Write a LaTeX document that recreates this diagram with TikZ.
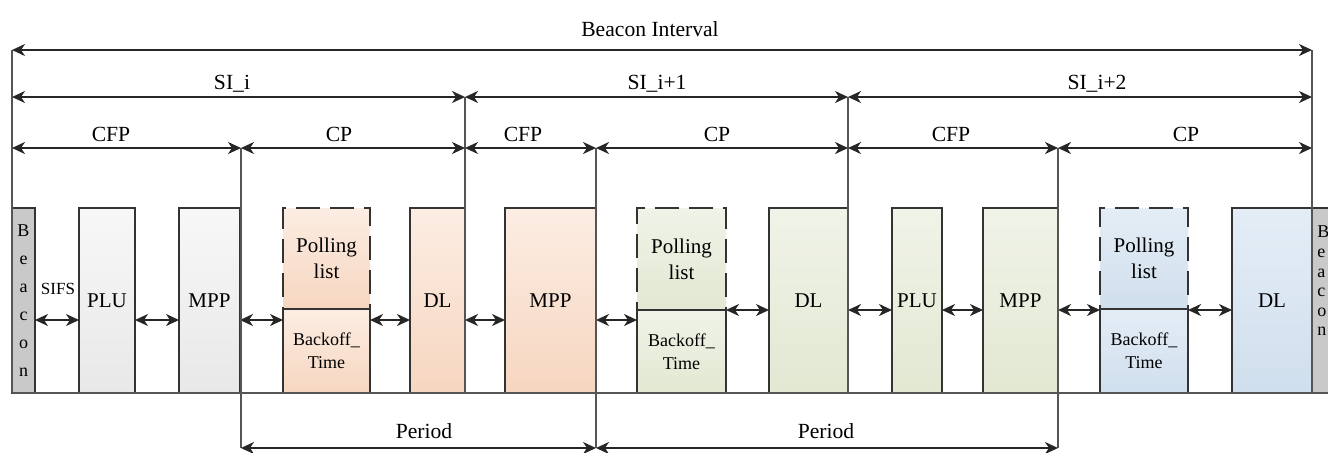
\documentclass[tikz,border=0pt]{standalone}
\usepackage{fontspec}
\setmainfont{Liberation Serif}
\newfontfamily\timesfont{Liberation Serif}
\usetikzlibrary{arrows.meta}
\definecolor{boxline}{HTML}{333333}
\definecolor{sepgray}{HTML}{555555}
\definecolor{bcngray}{HTML}{C9C9C9}
\definecolor{orL}{HTML}{FCEDE3}
\definecolor{orD}{HTML}{F6D6C0}
\definecolor{grL}{HTML}{F0F3E8}
\definecolor{grD}{HTML}{E2E8D2}
\definecolor{blL}{HTML}{E4EDF6}
\definecolor{blD}{HTML}{D0DFED}

\begin{document}
\begin{tikzpicture}[x=0.5pt, y=-0.5pt,
  box/.style={draw=boxline, line width=1pt, anchor=north west, inner sep=0pt, outer sep=0pt,
    minimum height=92.5pt, align=center, font=\timesfont\fontsize{10.5}{13}\selectfont},
  poll/.style={box, dash pattern=on 12pt off 5pt, minimum height=50.5pt},
  back/.style={box, minimum height=42pt, font=\timesfont\fontsize{9}{11.5}\selectfont},
  gbox/.style={top color=white!97!black, bottom color=white!91!black},
  obox/.style={top color=orL, bottom color=orD},
  grbox/.style={top color=grL, bottom color=grD},
  blbox/.style={top color=blL, bottom color=blD},
  dim/.style={line width=1pt, draw=black!85,
    {Stealth[length=6.5pt,width=6pt,inset=2pt]}-{Stealth[length=6.5pt,width=6pt,inset=2pt]}},
  sep/.style={line width=1pt, draw=sepgray},
  lbl/.style={anchor=base, inner sep=0pt, font=\timesfont\fontsize{10.8}{13}\selectfont}]
\useasboundingbox (0,0) rectangle (1328,452);
\clip (0,0) rectangle (1328,452);
% rows and ticks
\coordinate (bi) at (0,50); \coordinate (si) at (0,97); \coordinate (cp) at (0,148);
\coordinate (pd) at (0,448); \coordinate (base) at (0,393);
\coordinate (lo) at (0,320); \coordinate (hi) at (0,310);
\foreach \n/\x in {ta/12,tb/241,tc/465,td/596,te/848,tf/1058,tg/1312,tend/1328} \coordinate (\n) at (\x,0);

% slots
\node[box, fill=bcngray, minimum width=11.5pt, font=\timesfont\fontsize{9}{14}\selectfont] (bcnL) at (12,208) {B\\e\\a\\c\\o\\n};
\node[box, gbox, minimum width=28pt] (plu1) at (79,208) {PLU};
\node[box, gbox, minimum width=30.5pt] (mpp1) at (179,208) {MPP};
\node[poll, obox, minimum width=43.5pt] (poll1) at (283,208) {Polling\\list};
\node[back, obox, minimum width=43.5pt] (back1) at (283,309) {Backoff\_\\Time};
\node[box, obox, minimum width=27.5pt] (dl1) at (410,208) {DL};
\node[box, obox, minimum width=45.5pt] (mpp2) at (505,208) {MPP};
\node[poll, grbox, minimum width=44.5pt, minimum height=51pt] (poll2) at (637,208) {Polling\\list};
\node[back, grbox, minimum width=44.5pt, minimum height=41.5pt] (back2) at (637,310) {Backoff\_\\Time};
\node[box, grbox, minimum width=39.5pt] (dl2) at (769,208) {DL};
\node[box, grbox, minimum width=25pt] (plu2) at (892,208) {PLU};
\node[box, grbox, minimum width=37.5pt] (mpp3) at (983,208) {MPP};
\node[poll, blbox, minimum width=44pt] (poll3) at (1100,208) {Polling\\list};
\node[back, blbox, minimum width=44pt] (back3) at (1100,309) {Backoff\_\\Time};
\node[box, blbox, minimum width=40pt] (dl3) at (1232,208) {DL};
\node[box, fill=bcngray, minimum width=20pt] (bcnR) at (1312,208) {};
\node[anchor=west, inner sep=0pt, align=left, font=\timesfont\fontsize{9}{9.8}\selectfont] (bcnRt) at (1317,281) {B\\e\\a\\c\\o\\n};
\node[inner sep=0pt, font=\timesfont\fontsize{8.5}{10}\selectfont] (sifs) at (58,289) {SIFS};

% gaps between slots
\draw[dim] (bcnL.east |- lo) -- (plu1.west |- lo);
\draw[dim] (plu1.east |- lo) -- (mpp1.west |- lo);
\draw[dim] (mpp1.east |- lo) -- (back1.west |- lo);
\draw[dim] (back1.east |- lo) -- (dl1.west |- lo);
\draw[dim] (dl1.east |- lo) -- (mpp2.west |- lo);
\draw[dim] (mpp2.east |- lo) -- (back2.west |- lo);
\draw[dim] (back2.east |- hi) -- (dl2.west |- hi);
\draw[dim] (dl2.east |- hi) -- (plu2.west |- hi);
\draw[dim] (plu2.east |- hi) -- (mpp3.west |- hi);
\draw[dim] (mpp3.east |- hi) -- (back3.west |- hi);
\draw[dim] (back3.east |- hi) -- (dl3.west |- hi);

% separators
\draw[sep] (ta |- base) -- (tend |- base);
\draw[sep] (ta |- bi) -- (ta |- base);
\draw[sep] (tb |- cp) -- (tb |- pd);
\draw[sep] (tc |- si) -- (tc |- base);
\draw[sep] (td |- cp) -- (td |- pd);
\draw[sep] (te |- si) -- (te |- base);
\draw[sep] (tf |- cp) -- (tf |- pd);
\draw[sep] (tg |- bi) -- (tg |- base);

% intervals
\draw[dim] (ta |- bi) -- (tg |- bi);
\draw[dim] (ta |- si) -- (tc |- si);
\draw[dim] (tc |- si) -- (te |- si);
\draw[dim] (te |- si) -- (tg |- si);
\foreach \a/\b in {ta/tb,tb/tc,tc/td,td/te,te/tf,tf/tg} \draw[dim] (\a |- cp) -- (\b |- cp);
\draw[dim] (tb |- pd) -- (td |- pd);
\draw[dim] (td |- pd) -- (tf |- pd);

\node[lbl] (bilbl) at (650,36) {Beacon Interval};
\foreach \x/\t [count=\i] in {232/SI\_i, 657/SI\_i+1, 1097/SI\_i+2} \node[lbl] (si\i) at (\x,89) {\t};
\foreach \x/\t [count=\i] in {111/CFP, 339/CP, 523/CFP, 717/CP, 951/CFP, 1186/CP} \node[lbl] (per\i) at (\x,141) {\t};
\node[lbl] (pd1) at (424,438) {Period};
\node[lbl] (pd2) at (826,438) {Period};
\end{tikzpicture}
\end{document}
